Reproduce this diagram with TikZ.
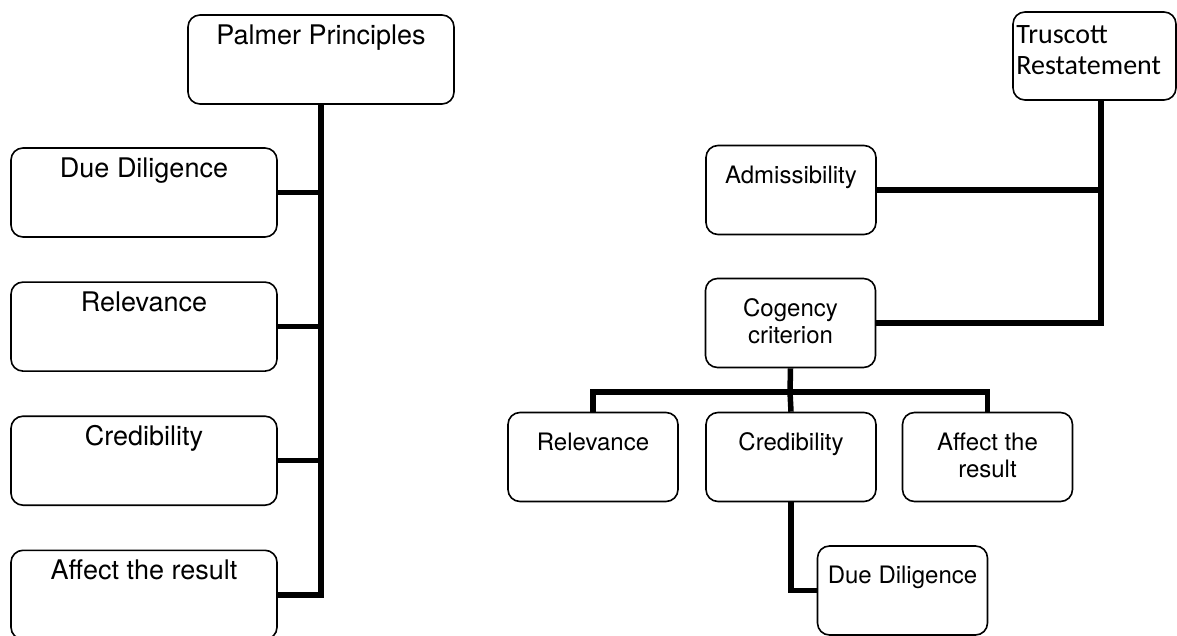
\documentclass[tikz,border=0pt]{standalone}
\usepackage{fontspec}
\setmainfont{TeX Gyre Heros}
\newfontfamily\calfont{Carlito}
\usetikzlibrary{positioning,calc}

\tikzset{
	box/.style={draw, line width=1.6pt, rounded corners=12pt, minimum width=266pt, minimum height=89pt, inner sep=0pt},
	sbox/.style={box, minimum width=170pt},
	link/.style={line width=5.5pt},
	toptext/.style={anchor=north, inner sep=0pt, yshift=-10pt, align=center, font=\fontsize{27}{32}\selectfont},
	stoptext/.style={toptext, yshift=-11pt, font=\fontsize{24}{27}\selectfont},
}

\begin{document}
\begin{tikzpicture}[x=1pt,y=-1pt]
	\fill[white] (0,0) rectangle (1177,636);
	\useasboundingbox (0,0) rectangle (1177,636);
	
	% left tree
	\node[box, label={[toptext]north:Palmer Principles}] (palmer) at (321,59.5) {};
	\node[box, label={[toptext]north:Due Diligence}] (ldd) at (144,192.5) {};
	\node[box, label={[toptext]north:Relevance}, below=43.5pt of ldd] (lrel) {};
	\node[box, label={[toptext]north:Credibility}, below=43.5pt of lrel] (lcred) {};
	\node[box, label={[toptext]north:Affect the result}, below=43.5pt of lcred] (laff) {};
	
	\draw[link] (palmer.south) |- (laff.east);
	\draw[link] (ldd.east) -- (ldd.east -| palmer.south);
	\draw[link] (lrel.east) -- (lrel.east -| palmer.south);
	\draw[link] (lcred.east) -- (lcred.east -| palmer.south);
	
	% right tree
	\node[sbox, minimum width=163pt, minimum height=88pt,
		label={[toptext, anchor=north west, xshift=4pt, yshift=-4pt, align=left, font=\calfont\fontsize{28}{31}\selectfont]north west:Truscott\\Restatement}] (trus) at (1094.5,56) {};
	\node[sbox, label={[stoptext]north:Admissibility}] (adm) at (791,190) {};
	\node[sbox, label={[stoptext]north:Cogency\\criterion}] (cog) at (790.5,323) {};
	\node[sbox, label={[stoptext]north:Relevance}] (rrel) at (593,457) {};
	\node[sbox, label={[stoptext]north:Credibility}] (rcred) at (791,457) {};
	\node[sbox, label={[stoptext]north:Affect the\\result}] (raff) at (987.5,457) {};
	\node[sbox, label={[stoptext]north:Due Diligence}] (rdd) at (902.5,590.5) {};
	
	% spine under Truscott, a bit right of centre
	\coordinate (tspine) at ([xshift=6.5pt]trus.south);
	\coordinate (bar) at (790,392);
	
	\draw[link] (tspine) |- (cog.east);
	\draw[link] (adm.east) -- (adm.east -| tspine);
	\draw[link] (cog.south) -- (bar);
	\draw[link] (rrel.north) |- (bar) -| (raff.north);
	\draw[link] (bar) -- (rcred.north);
	\draw[link] (rcred.south) |- (rdd.west);
\end{tikzpicture}
\end{document}
